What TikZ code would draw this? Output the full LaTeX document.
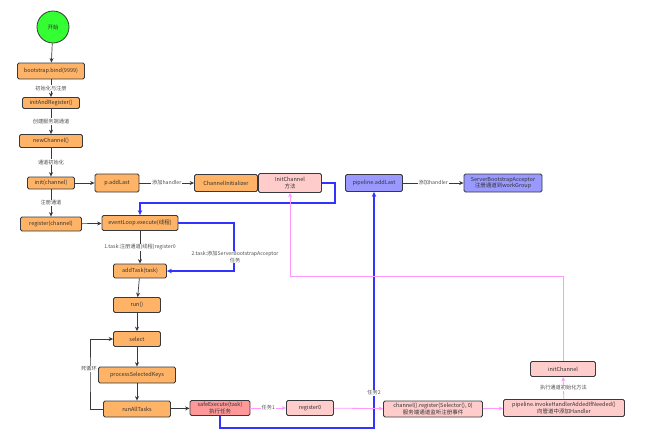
\documentclass[tikz,border=0pt]{standalone}
\usepackage{fontspec}
\setmainfont{Noto Sans CJK SC}
\usetikzlibrary{arrows.meta}
\definecolor{orangef}{HTML}{FFB366}
\definecolor{pinkf}{HTML}{FFCCCC}
\definecolor{redf}{HTML}{FF9999}
\definecolor{bluef}{HTML}{9999FF}
\definecolor{greenf}{HTML}{33FF33}
\definecolor{edgec}{HTML}{36393D}
\definecolor{txt}{HTML}{333333}
\definecolor{blueline}{HTML}{3333FF}
\definecolor{pinkline}{HTML}{FF99FF}
\tikzset{
  box/.style={draw=edgec, line width=0.8pt, rounded corners=1.5pt, fill=orangef, text=txt,
    font=\fontsize{5.5}{6.5}\selectfont, inner sep=1pt, align=center},
  pbox/.style={box, fill=pinkf},
  rbox/.style={box, fill=redf},
  bbox/.style={box, fill=bluef},
  arr/.style={draw=edgec, line width=0.7pt, -{Stealth[length=4.5pt,width=4pt]}},
  barr/.style={draw=blueline, line width=1.1pt, -{Stealth[length=5pt,width=4.5pt]}},
  parr/.style={draw=pinkline, line width=0.8pt, -{Stealth[length=4.5pt,width=4pt]}},
  lbl/.style={fill=white, text=txt!85, font=\fontsize{5.2}{6.2}\selectfont, inner sep=0.8pt, align=center},
}
\begin{document}
\begin{tikzpicture}[x=1pt,y=-1pt]
\useasboundingbox (0,0) rectangle (650,440);
% nodes
\node[circle, draw=edgec, line width=0.8pt, fill=greenf, minimum size=32pt, inner sep=0pt, text=txt, font=\fontsize{5.5}{6.5}\selectfont] (start) at (53,27) {开始};
\node[box, minimum width=67pt, minimum height=16pt] (bind) at (51,71) {bootstrap.bind(9999)};
\node[box, minimum width=57pt, minimum height=11pt] (iar) at (51,103) {initAndRegister()};
\node[box, minimum width=63pt, minimum height=13pt] (newch) at (51,141) {newChannel()};
\node[box, minimum width=47pt, minimum height=12pt] (init) at (51,183) {init(channel)};
\node[box, minimum width=44pt, minimum height=18pt] (padd) at (117,183) {p.addLast};
\node[box, minimum width=63pt, minimum height=17pt] (ci) at (226,183) {ChannelInitializer};
\node[pbox, minimum width=63pt, minimum height=19pt] (ich) at (290,183) {InitChannel\\方法};
\node[box, minimum width=61pt, minimum height=14pt] (reg) at (51,224) {register(channel)};
\node[box, minimum width=76pt, minimum height=15pt] (ele) at (140,223) {eventLoop.execute(线程)};
\node[box, minimum width=53pt, minimum height=14pt] (addtask) at (140,271) {addTask(task)};
\node[box, minimum width=47pt, minimum height=15pt] (run) at (137,305) {run()};
\node[box, minimum width=47pt, minimum height=15pt] (select) at (137,339) {select};
\node[box, minimum width=77pt, minimum height=16pt] (psk) at (137,375) {processSelectedKeys};
\node[box, minimum width=67pt, minimum height=16pt] (rat) at (137,409) {runAllTasks};
\node[rbox, minimum width=60pt, minimum height=15pt] (safe) at (220,408) {safeExecute(task)\\执行任务};
\node[pbox, minimum width=47pt, minimum height=15pt] (reg0) at (310,408) {register0};
\node[pbox, minimum width=99pt, minimum height=16pt] (chreg) at (433,409) {channel().register(Selector(), 0)\\服务端通道监听注册事件};
\node[pbox, minimum width=121pt, minimum height=17pt] (pih) at (564,408) {pipeline.invokeHandlerAddedIfNeeded()\\向管道中添加Handler};
\node[pbox, minimum width=65pt, minimum height=15pt] (ich2) at (563,369) {initChannel};
\node[bbox, minimum width=57pt, minimum height=17pt] (pal) at (374,183) {pipeline.addLast};
\node[bbox, minimum width=78pt, minimum height=18pt] (sba) at (503,183) {ServerBootstrapAcceptor\\注册通道到workGroup};
% black edges
\draw[arr] (start) -- (bind);
\draw[arr] (bind) -- node[lbl] {初始化与注册} (iar);
\draw[arr] (iar) -- node[lbl] {创建服务端通道} (newch);
\draw[arr] (newch) -- node[lbl] {通道初始化} (init);
\draw[arr] (init) -- (padd);
\draw[arr] (padd) -- node[lbl] {添加handler} (ci);
\draw[arr] (init) -- node[lbl] {注册通道} (reg);
\draw[arr] (reg) -- (ele);
\draw[arr] (ele) -- node[lbl] {1.task:注册通道(线程)register0} (addtask);
\draw[arr] (addtask) -- (run);
\draw[arr] (run) -- (select);
\draw[arr] (select) -- (psk);
\draw[arr] (psk) -- (rat);
\coordinate (lp) at (90,375);
\draw[arr] (rat.west) -| (lp) |- (select.west);
\node[lbl] (lplbl) at (89,369) {死循环};
\draw[arr] (rat) -- (safe);
\draw[arr] (pal) -- node[lbl] {添加handler} (sba);
% blue edges
\coordinate (b1) at (335,203);
\draw[barr] (ich.east) -| (b1) -| (ele.north);
\coordinate (b2) at (234,271);
\draw[barr] (ele.east) -| (b2) -- (addtask.east);
\node[lbl] (b2lbl) at (235,257) {2.task:添加ServerBootstrapAcceptor\\任务};
\coordinate (b3) at (374,428);
\draw[barr] (safe.south) |- (b3) -- (pal.south);
\node[lbl] (b3lbl) at (374,393) {任务2};
% pink edges
\draw[parr] (safe) -- node[lbl] {任务1} (reg0);
\draw[parr] (reg0) -- (chreg);
\draw[parr] (chreg) -- (pih);
\draw[parr] (pih) -- node[lbl] {执行通道初始化方法} (ich2);
\coordinate (p1) at (563,276);
\draw[parr] (ich2.north) -- (p1) -| (ich.south);
\end{tikzpicture}
\end{document}
